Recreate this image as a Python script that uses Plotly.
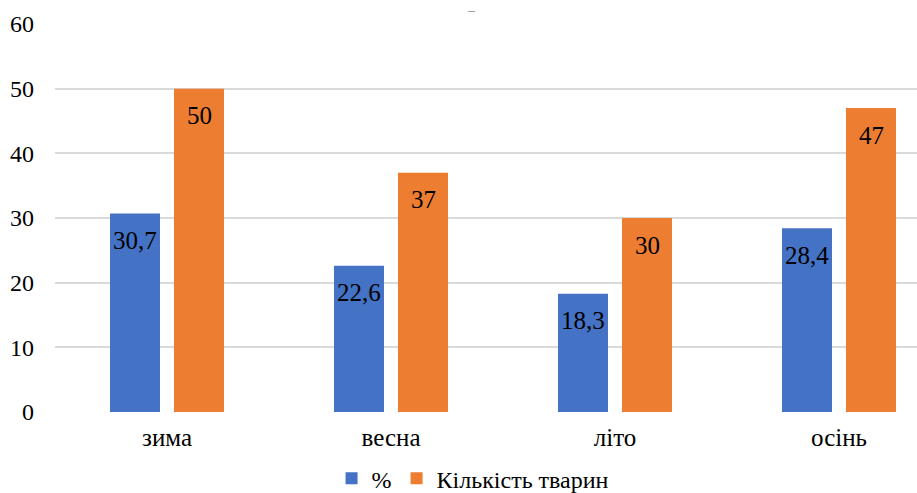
import plotly.graph_objects as go

categories = ["зима", "весна", "літо", "осінь"]
pct_values = [30.7, 22.6, 18.3, 28.4]
count_values = [50, 37, 30, 47]
y_ticks = [0, 10, 20, 30, 40, 50, 60]

FONT = "Liberation Serif"

def fmt(v):
    return f"{v:g}".replace(".", ",")

fig = go.Figure()
fig.add_trace(go.Bar(
    x=categories, y=pct_values, name="%",
    marker=dict(color="#4472C4", line=dict(width=0)),
))
fig.add_trace(go.Bar(
    x=categories, y=count_values, name="Кількість тварин",
    marker=dict(color="#ED7D31", line=dict(width=0)),
))

BAR_OFFSET = 32  # half of a group slot in px
annotations = []
for series, shift in ((pct_values, -BAR_OFFSET), (count_values, BAR_OFFSET)):
    for c, v in zip(categories, series):
        annotations.append(dict(
            x=c, y=v, xref="x", yref="y", text=fmt(v), showarrow=False,
            xshift=shift, yshift=-27, yanchor="middle",
            font=dict(family=FONT, size=25, color="#000000"),
        ))
annotations.append(dict(text="–", xref="paper", yref="paper", x=(471 - 55) / 862, y=1.035,
                        yanchor="middle", showarrow=False,
                        font=dict(size=14, color="#8c8c8c")))

fig.update_layout(
    width=917, height=493,
    margin=dict(l=55, r=0, t=24, b=81, autoexpand=False),
    paper_bgcolor="white", plot_bgcolor="white",
    barmode="group", bargap=0.4286, bargroupgap=0.219,
    font=dict(family=FONT, size=24, color="#000000"),
    showlegend=True,
    legend=dict(orientation="h", x=0.485, xanchor="center", y=-0.172, yanchor="middle",
                font=dict(family=FONT, size=24, color="#000000"),
                itemwidth=30, traceorder="normal"),
    xaxis=dict(range=[-0.5, -0.5 + 862 / 224], showgrid=False, showline=False,
               zeroline=False, ticks="", ticklabelstandoff=8, automargin=False,
               tickfont=dict(family=FONT, size=25, color="#000000")),
    yaxis=dict(range=[0, 60], tickvals=y_ticks, showgrid=True, gridcolor="#D9D9D9",
               gridwidth=1.5, zeroline=False, showline=False, ticks="",
               ticklabelstandoff=20, automargin=False,
               tickfont=dict(family=FONT, size=24, color="#000000")),
    annotations=annotations,
)

fig.write_html("out.html")
